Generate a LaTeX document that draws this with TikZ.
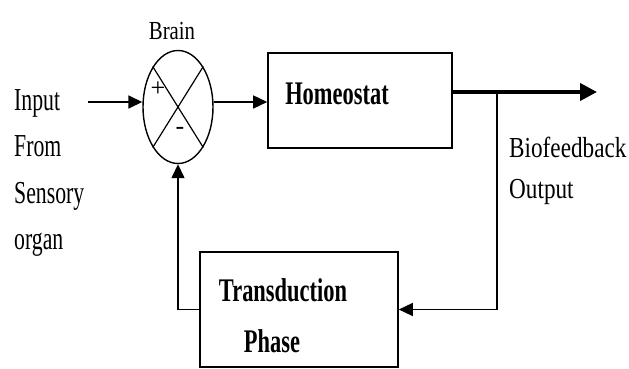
\documentclass[tikz,border=0pt]{standalone}
\usepackage{fontspec}
\setmainfont{Liberation Serif}
\newfontfamily\narrowfont[FakeStretch=0.68]{Liberation Serif}
\newfontfamily\widefont[FakeStretch=0.8]{Liberation Serif}
\usetikzlibrary{arrows.meta,shapes.geometric}

\tikzset{
  blockbox/.style={draw, line width=1.6pt, rectangle, inner sep=0pt},
  sumnode/.style={draw, line width=1.4pt, ellipse, minimum width=70pt, minimum height=113pt, inner sep=0pt},
  sig/.style={line width=1.6pt, -{Triangle[length=14pt,width=13pt]}},
  plainlabel/.style={font=\narrowfont\fontsize{32}{46.5}\selectfont, inner sep=0pt},
  boxlabel/.style={font=\narrowfont\bfseries\fontsize{33}{40}\selectfont, inner sep=0pt},
}

\begin{document}
\begin{tikzpicture}[x=1pt, y=-1pt]
    \useasboundingbox (0,0) rectangle (629,369);

    % Brain (summing point)
    \node[sumnode] (brain) at (178,107) {};
    \draw[line width=1.2pt] (brain.north west) -- (brain.south east);
    \draw[line width=1.2pt] (brain.north east) -- (brain.south west);
    \node[font=\fontsize{26}{30}\selectfont, inner sep=0pt] (plus) at (158,89) {+};
    \node[font=\fontsize{26}{30}\selectfont, inner sep=0pt] (minus) at (180,131) {-};
    \node[inner sep=0pt, font=\widefont\fontsize{26}{30}\selectfont] (brainlabel) at (172,31) {Brain};

    % Input
    \node[plainlabel, align=left, anchor=north west] (inlabel) at (14,89) {Input\\From\\Sensory\\organ};
    \coordinate (in) at (88,102);
    \draw[sig] (in) -- (in -| brain.west);

    % Homeostat
    \node[blockbox, minimum width=184pt, minimum height=95pt] (homeo) at (360,100.5) {};
    \node[boxlabel] (homeolabel) at (337,94) {Homeostat};
    \draw[sig] (in -| brain.east) -- (in -| homeo.west);

    % Biofeedback output
    \coordinate (split) at (497,92);
    \coordinate (out) at (597,92);
    \draw[line width=4pt, -{Triangle[length=17pt,width=17pt]}] (homeo.east |- split) -- (out);
    \node[inner sep=0pt, align=left, anchor=west, font=\widefont\fontsize{29}{41}\selectfont] (outlabel) at (509,171) {Biofeedback\\Output};

    % Transduction phase
    \node[blockbox, minimum width=198pt, minimum height=115pt] (trans) at (299,309.5) {};
    \node[boxlabel] (translabel1) at (283,290) {Transduction};
    \node[boxlabel] (translabel2) at (272,341) {Phase};

    % Feedback loop
    \draw[sig, line width=1.4pt] (split) |- (trans.east);
    \draw[sig, line width=1.4pt] (trans.west) -| (brain.south);
\end{tikzpicture}
\end{document}
